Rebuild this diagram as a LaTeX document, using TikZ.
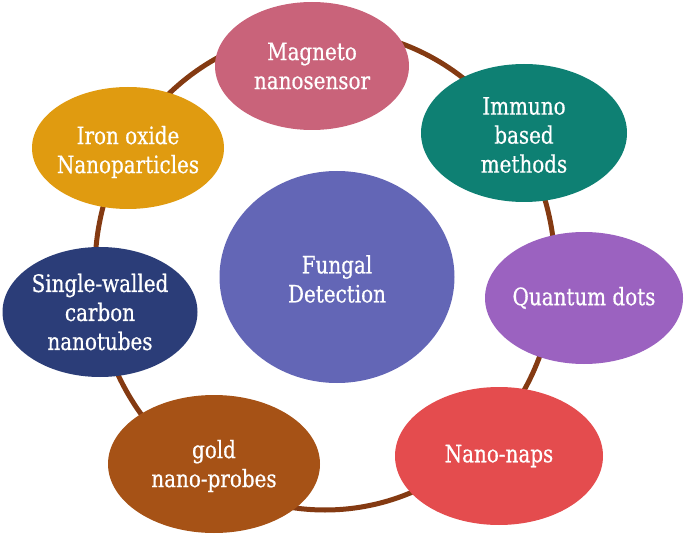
\documentclass[tikz,border=0pt]{standalone}
\usepackage{fontspec}
\setmainfont{DejaVu Serif}[FakeStretch=0.83,FakeBold=0.6]
\usetikzlibrary{shapes.geometric}
\definecolor{ringc}{HTML}{843A12}
\definecolor{cmag}{HTML}{C9637A}
\definecolor{ciron}{HTML}{E09B10}
\definecolor{cimm}{HTML}{0E8073}
\definecolor{csw}{HTML}{2B3D78}
\definecolor{cqd}{HTML}{9B62C0}
\definecolor{cgold}{HTML}{A65216}
\definecolor{cnn}{HTML}{E44C4E}
\definecolor{cfd}{HTML}{6366B6}
\begin{document}
\begin{tikzpicture}[x=1pt,y=-1pt,
  blob/.style={ellipse, inner sep=0pt, draw=none},
  txt/.style={inner sep=0pt, text=white, align=center,
    font=\fontsize{24}{29}\selectfont}]
\useasboundingbox (0,0) rectangle (685,537);
\draw[ringc, line width=5pt] (325,270) ellipse [x radius=230, y radius=240];
\node[blob, fill=cfd, minimum width=235, minimum height=212] (fd) at (337,277) {};
\node[blob, fill=cmag, minimum width=194, minimum height=128] (mag) at (312,66) {};
\node[blob, fill=ciron, minimum width=192, minimum height=122] (iron) at (128,148) {};
\node[blob, fill=cimm, minimum width=206, minimum height=138] (imm) at (524,133) {};
\node[blob, fill=csw, minimum width=195, minimum height=130] (sw) at (100,312) {};
\node[blob, fill=cqd, minimum width=198, minimum height=132] (qd) at (584,298) {};
\node[blob, fill=cgold, minimum width=212, minimum height=138] (gold) at (214,464) {};
\node[blob, fill=cnn, minimum width=208, minimum height=138] (nn) at (499,456) {};
\node[txt] (fdt) at (337,279) {Fungal\\Detection};
\node[txt] (magt) at (312,66) {Magneto\\nanosensor};
\node[txt] (iront) at (128,152) {Iron oxide\\Nanoparticles};
\node[txt] (immt) at (524,135) {Immuno\\based\\methods};
\node[txt] (swt) at (100,312) {Single-walled\\carbon\\nanotubes};
\node[txt] (qdt) at (584,298) {Quantum dots};
\node[txt] (goldt) at (214,466) {gold\\nano-probes};
\node[txt] (nnt) at (499,456) {Nano-naps};
\end{tikzpicture}
\end{document}
